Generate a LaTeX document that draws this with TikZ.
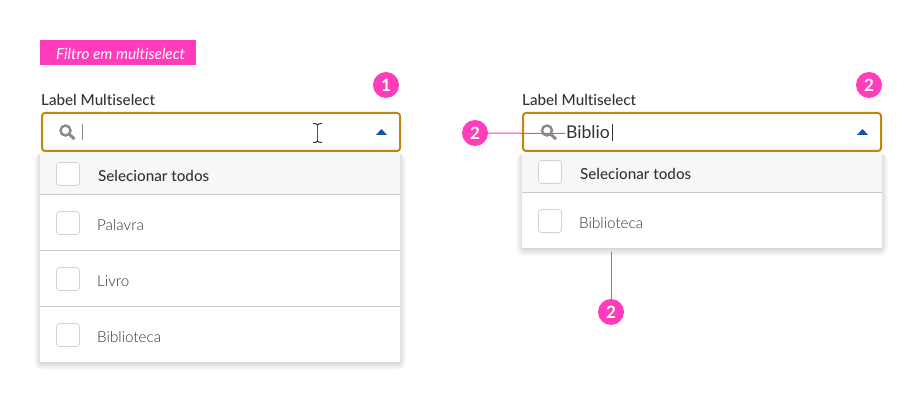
\documentclass[tikz,border=0pt]{standalone}
\usepackage{fontspec}
\setmainfont[Ligatures=NoCommon]{Lato}
\newfontfamily\lightfont[Ligatures=NoCommon]{Lato Light}
\newfontfamily\medfont[Ligatures=NoCommon]{Lato Medium}
\usetikzlibrary{calc}
\definecolor{pinkc}{HTML}{FF3DBB}
\definecolor{goldc}{HTML}{C1860F}
\definecolor{bluec}{HTML}{1250AE}
\definecolor{iconc}{HTML}{8A8A8A}
\definecolor{rulec}{HTML}{CBCBCB}
\definecolor{headc}{HTML}{F7F7F7}
\definecolor{boxc}{HTML}{D2D2D2}
\definecolor{textc}{HTML}{333333}
\tikzset{
  x=1pt,y=-1pt,
  badge/.style={circle,fill=pinkc,minimum size=26pt,inner sep=0pt,text=white,font=\fontsize{17}{17}\selectfont\bfseries},
  leader/.style={draw=pinkc,line width=1pt},
  inputbox/.style={draw=goldc,line width=2pt,rounded corners=3pt,fill=white},
  checkbox/.style={draw=boxc,line width=0.8pt,rounded corners=3pt,fill=white},
  rowrule/.style={draw=rulec,line width=1pt},
  fieldlabel/.style={anchor=west,inner sep=0pt,text=textc,font=\fontsize{15.2}{16}\selectfont\medfont},
  headlabel/.style={anchor=west,inner sep=0pt,text=textc,font=\fontsize{15.2}{16}\selectfont\medfont},
  itemlabel/.style={anchor=west,inner sep=0pt,text=textc,font=\fontsize{15.2}{16}\selectfont\lightfont},
  tagbox/.style={fill=pinkc},
  icon/.style={draw=iconc,line width=2.4pt},
}
\newcommand{\softshadow}[4]{%
  \foreach \s in {8,7,...,0}{%
    \fill[black,opacity=0.02,rounded corners=\s pt]
      ({#1-\s+2},{#2}) rectangle ({#3+\s-2},{#4+\s});
  }%
}
\newcommand{\searchicon}[2]{%
  \draw[icon] (#1,#2) circle[radius=5];
  \draw[icon,line width=3pt] ({#1+3.8},{#2+3.8}) -- ({#1+9},{#2+8.6});
}
\newcommand{\uptri}[2]{%
  \fill[bluec] ({#1-5.5},#2+3) -- (#1,{#2-3}) -- ({#1+5.5},#2+3) -- cycle;
}
\begin{document}
\begin{tikzpicture}
\useasboundingbox[fill=white] (0,0) rectangle (922,403);
% tag
\fill[tagbox] (40,40) rectangle (196,65);
\node[anchor=west,inner sep=0pt,text=white,font=\fontsize{15.3}{16}\selectfont\itshape] (tag) at (56,54) {Filtro em multiselect};
% left
\softshadow{40}{153}{400}{362}
\fill[white] (40,153) rectangle (400,362);
\fill[headc] (40,153) rectangle (400,194);
\draw[rowrule] (40,194.5) -- (400,194.5);
\draw[rowrule] (40,250.5) -- (400,250.5);
\draw[rowrule] (40,306.5) -- (400,306.5);
\node[fieldlabel] (llabel) at (41,100) {Label Multiselect};
\draw[inputbox] (42,113) rectangle (400,151);
\searchicon{65.5}{130.5}
\draw[iconc,line width=1pt] (82.5,124) -- (82.5,140);
\uptri{381.5}{132}
\draw[checkbox] (56.5,162.5) rectangle (79.5,185.5);
\draw[checkbox] (56.5,211.5) rectangle (79.5,234.5);
\draw[checkbox] (56.5,267.5) rectangle (79.5,290.5);
\draw[checkbox] (56.5,323.5) rectangle (79.5,346.5);
\node[headlabel] (lall) at (98,175.5) {Selecionar todos};
\node[itemlabel] (l1) at (97,225) {Palavra};
\node[itemlabel] (l2) at (97,281) {Livro};
\node[itemlabel] (l3) at (97,337) {Biblioteca};
% I-beam
\draw[textc!85,line width=1.6pt] (317.5,124) -- (317.5,142);
\draw[textc,line width=1pt] (313,123.5) .. controls (316,123.5) and (317,124) .. (317.5,125) .. controls (318,124) and (319,123.5) .. (322,123.5);
\draw[textc,line width=1pt] (313,142.5) .. controls (316,142.5) and (317,142) .. (317.5,141) .. controls (318,142) and (319,142.5) .. (322,142.5);
\node[badge] (b1) at (386,85) {1};
% right
\softshadow{522}{153}{882}{248}
\fill[white] (522,153) rectangle (882,248);
\fill[headc] (522,153) rectangle (882,192);
\draw[rowrule] (522,192.5) -- (882,192.5);
\node[fieldlabel] (rlabel) at (522,100) {Label Multiselect};
\draw[inputbox] (523,113) rectangle (881,151);
\searchicon{547}{130.5}
\node[anchor=west,inner sep=0pt,text=textc,font=\fontsize{17.6}{18}\selectfont] (typed) at (566,132.5) {Biblio};
\draw[textc,line width=0.8pt] (612,124) -- (612,141);
\uptri{862.5}{132}
\draw[checkbox] (538.5,160.5) rectangle (561.5,183.5);
\draw[checkbox] (538.5,209.5) rectangle (561.5,232.5);
\node[headlabel] (rall) at (580,173.5) {Selecionar todos};
\node[itemlabel] (r1) at (579,223) {Biblioteca};
\node[badge] (b2) at (869,85) {2};
\node[badge] (b3) at (475,133) {2};
\node[badge] (b4) at (611,312) {2};
\coordinate (c3) at (565,133.5);
\coordinate (c4) at (611,252);
\draw[leader] (b3) -- (c3);
\draw[leader] (c4) -- (b4);
\end{tikzpicture}
\end{document}
